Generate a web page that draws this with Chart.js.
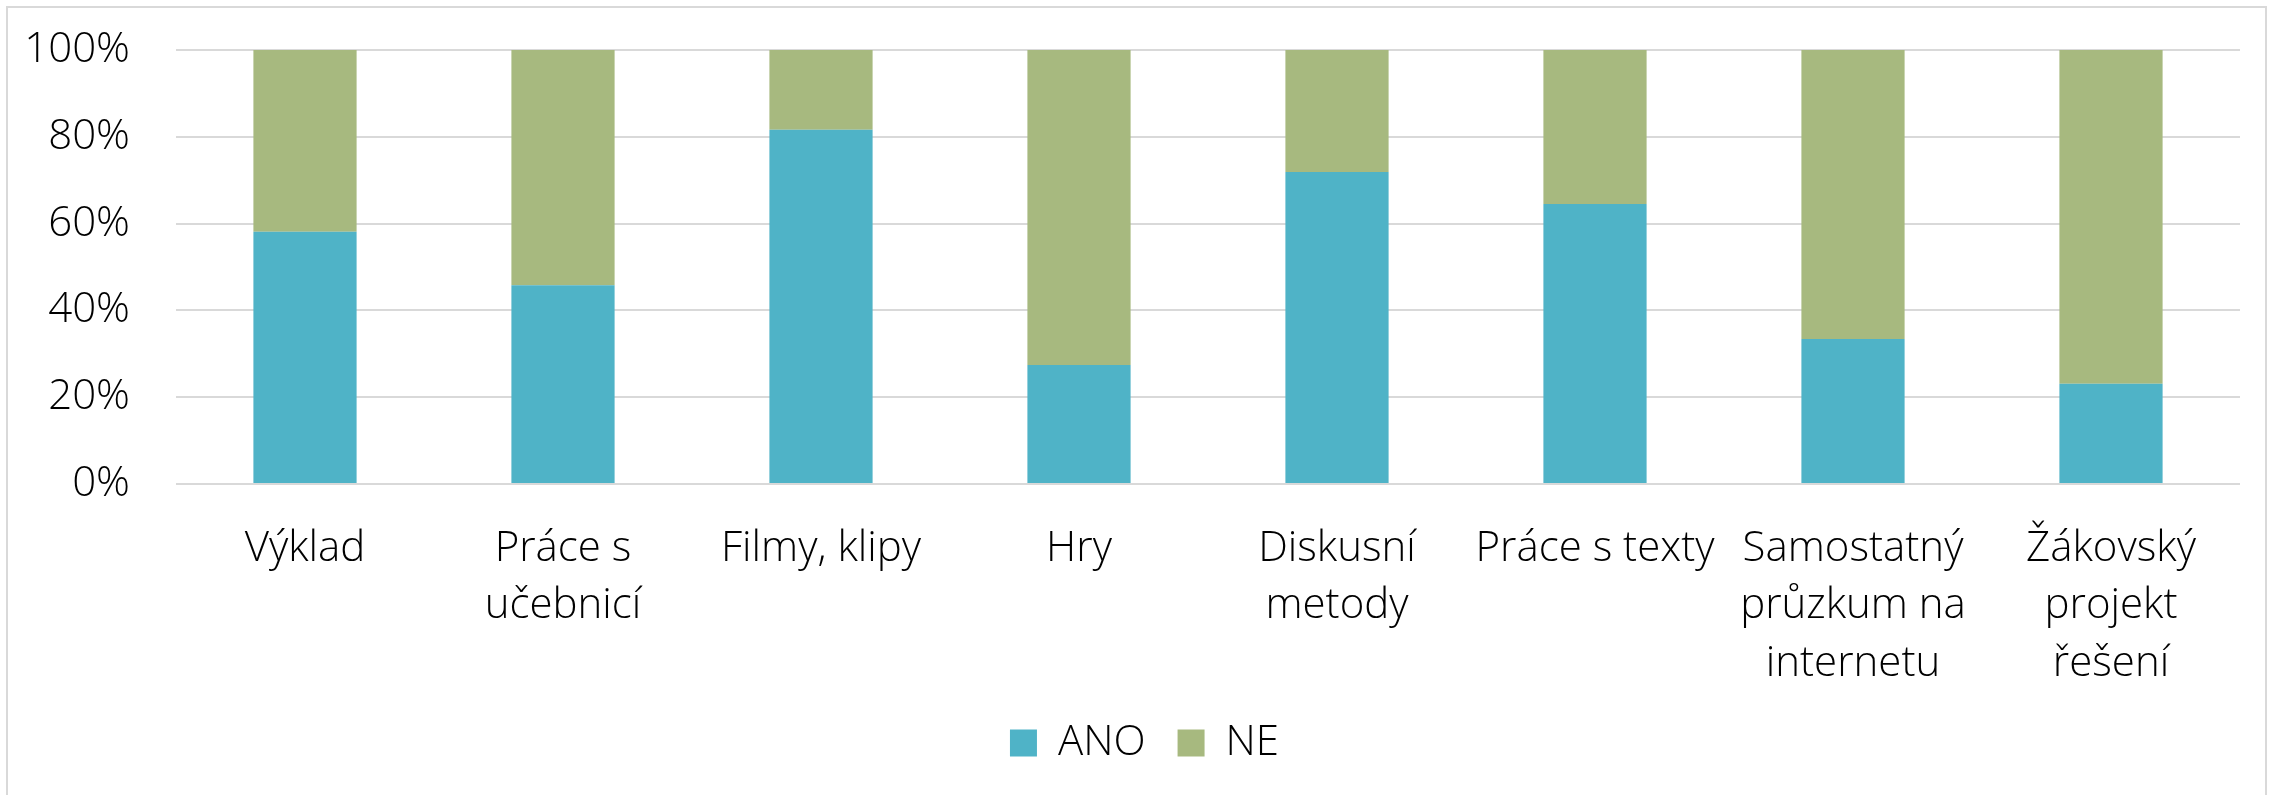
<!DOCTYPE html>
<html>
<head>
<meta charset="utf-8">
<script src="https://cdn.jsdelivr.net/npm/chart.js@4"></script>
<style>
    html, body { margin: 0; padding: 0; background: #fff; }
    body { width: 2277px; height: 795px; position: relative; overflow: hidden; }
    .frame { position: absolute; left: 6px; top: 6px; width: 2261px; height: 820px; border: 2px solid #d9d9d9; box-sizing: border-box; }
    .wrap { position: absolute; left: 0; top: 0; width: 2277px; height: 795px; }
</style>
</head>
<body>
<div class="frame"></div>
<div class="wrap"><canvas id="chart" width="2277" height="795"></canvas></div>
<script>
// categories (multi-line labels as in the source chart)
const categories = [
    ['Výklad'],
    ['Práce s', 'učebnicí'],
    ['Filmy, klipy'],
    ['Hry'],
    ['Diskusní', 'metody'],
    ['Práce s texty'],
    ['Samostatný', 'průzkum na', 'internetu'],
    ['Žákovský', 'projekt', 'řešení']
];
// share of answers, in %
const anoValues = [58.1, 45.8, 81.6, 27.4, 71.9, 64.5, 33.4, 23.1];
const neValues = [41.9, 54.2, 18.4, 72.6, 28.1, 35.5, 66.6, 76.9];
const yTicks = [0, 20, 40, 60, 80, 100];

const FONT = { family: '"Open Sans", sans-serif', size: 42, weight: 300 };
const XFONT = { family: '"Open Sans", sans-serif', size: 42, weight: 300, lineHeight: 1.37 };
const TEXT = '#000';
const GRID = '#d9d9d9';

// legend in the original is centred on the whole frame, not on the padded area
const legendShift = {
    id: 'legendShift',
    afterLayout(chart) {
        const lg = chart.legend;
        if (!lg) return;
        lg.left += 21;
        lg.right += 21;
    }
};

const ctx = document.getElementById('chart').getContext('2d');
new Chart(ctx, {
    type: 'bar',
    data: {
        labels: categories,
        datasets: [
            { label: 'ANO', data: anoValues, backgroundColor: '#4fb3c7', borderWidth: 0 },
            { label: 'NE', data: neValues, backgroundColor: '#a7b97f', borderWidth: 0 }
        ]
    },
    options: {
        responsive: false,
        animation: false,
        devicePixelRatio: 1,
        layout: { padding: { left: 7, right: 37, top: 50, bottom: 21 } },
        datasets: { bar: { categoryPercentage: 1, barPercentage: 0.4 } },
        scales: {
            x: {
                stacked: true,
                grid: { display: false },
                border: { display: false },
                ticks: { font: XFONT, color: TEXT, padding: 28, maxRotation: 0, autoSkip: false },
                afterFit: (s) => { s.height = 206; }
            },
            y: {
                stacked: true,
                min: 0,
                max: 100,
                afterBuildTicks: (s) => { s.ticks = yTicks.map(v => ({ value: v })); },
                grid: { color: GRID, lineWidth: 2, drawTicks: false },
                border: { display: false },
                ticks: { font: FONT, color: TEXT, padding: 46, callback: (v) => v + '%' },
                afterFit: (s) => { s.width = 169; s.paddingTop = 0; s.paddingBottom = 0; }
            }
        },
        plugins: {
            legend: {
                position: 'bottom',
                labels: { font: FONT, color: TEXT, boxWidth: 27, boxHeight: 27, padding: 32 }
            },
            tooltip: { enabled: false }
        }
    },
    plugins: [legendShift]
});
</script>
</body>
</html>
